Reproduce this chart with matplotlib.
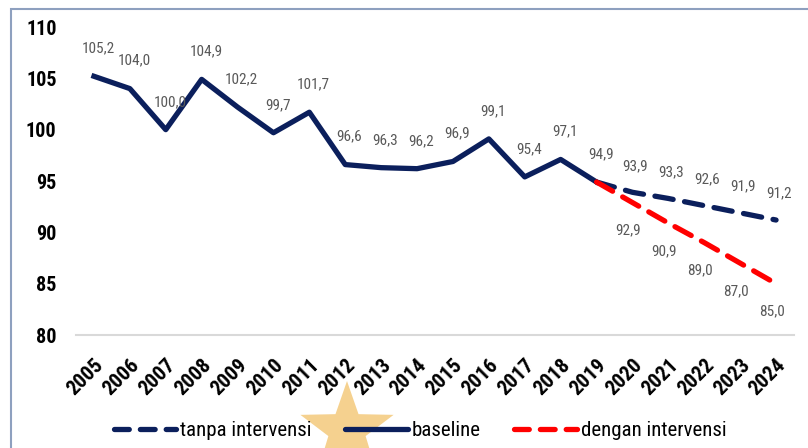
import numpy as np
import matplotlib.pyplot as plt
from matplotlib import font_manager
from matplotlib.lines import Line2D
from matplotlib.patches import Rectangle

# pick a narrow font if there is one
names = {f.name for f in font_manager.fontManager.ttflist}
font = "DejaVu Sans"
for cand in ["Liberation Sans Narrow", "Roboto Condensed", "Open Sans Condensed", "Lato"]:
    if cand in names:
        font = cand
        break
plt.rcParams["font.family"] = font

# data
years = list(range(2005, 2025))
baseline_years = list(range(2005, 2020))
baseline = [105.2, 104.0, 100.0, 104.9, 102.2, 99.7, 101.7, 96.6, 96.3, 96.2,
            96.9, 99.1, 95.4, 97.1, 94.9]
proj_years = list(range(2019, 2025))
tanpa = [94.9, 93.9, 93.3, 92.6, 91.9, 91.2]
dengan = [94.9, 92.9, 90.9, 89.0, 87.0, 85.0]

navy = "#0B1F5C"
red = "#FF0000"
label_color = "#595959"

fig = plt.figure(figsize=(8.08, 4.48), dpi=100)
ax = fig.add_axes([76 / 808, 1 - 335 / 448, 718 / 808, 308 / 448])

ax.plot(proj_years, tanpa, color=navy, lw=3.8, dashes=(3.5, 2.2),
        dash_capstyle="round")
ax.plot(baseline_years, baseline, color=navy, lw=3.8)
ax.plot(proj_years, dengan, color=red, lw=3.8, dashes=(3.5, 2.2),
        dash_capstyle="round")

lab = dict(ha="center", fontsize=11, color=label_color)
for x, v in zip(baseline_years, baseline):
    ax.annotate(f"{v:.1f}".replace(".", ","), (x, v), xytext=(3, 15),
                textcoords="offset points", va="bottom", **lab)
for x, v in zip(proj_years[1:], tanpa[1:]):
    ax.annotate(f"{v:.1f}".replace(".", ","), (x, v), xytext=(2, 14),
                textcoords="offset points", va="bottom", **lab)
for x, v in zip(proj_years[1:], dengan[1:]):
    ax.annotate(f"{v:.1f}".replace(".", ","), (x, v), xytext=(-3, -15),
                textcoords="offset points", va="top", **lab)

ax.set_xlim(2004.5, 2024.5)
ax.set_ylim(80, 110)
ax.set_yticks([80, 85, 90, 95, 100, 105, 110])
ax.set_xticks(years)
ax.set_xticklabels([str(y) for y in years], rotation=45, ha="right",
                   rotation_mode="anchor", fontsize=15, fontweight="bold")
for t in ax.get_yticklabels():
    t.set_fontsize(14.5)
    t.set_fontweight("bold")
ax.tick_params(axis="y", length=0, pad=14)
ax.tick_params(axis="x", length=0, pad=15)
for s in ["top", "right", "left"]:
    ax.spines[s].set_visible(False)
ax.spines["bottom"].set_color("#D9D9D9")
ax.spines["bottom"].set_linewidth(1.5)

# legend with shorter dashes, like the original
handles = [
    Line2D([], [], color=navy, lw=3.8, dashes=(2.8, 2.1), dash_capstyle="round"),
    Line2D([], [], color=navy, lw=3.8, solid_capstyle="round"),
    Line2D([], [], color=red, lw=3.8, dashes=(2.8, 2.1), dash_capstyle="round"),
]
fig.legend(handles, ["tanpa intervensi", "baseline", "dengan intervensi"],
           loc="lower center", bbox_to_anchor=(0.52, -0.025), ncol=3,
           frameon=False, fontsize=15, handlelength=3.0, columnspacing=1.6,
           handletextpad=0.2)

# frame around the chart
fig.add_artist(Rectangle((11 / 808, -0.01), 1.0, 0.998 - 4 / 448, transform=fig.transFigure,
                         fill=False, edgecolor="#8EA0BF", lw=1.5))

# gold star overlay
cx, cy, r = 347, 18, 49
ang = np.pi / 2 + np.arange(10) * np.pi / 5
rad = np.where(np.arange(10) % 2 == 0, r, r * 0.4)
pts = np.column_stack([cx + rad * np.cos(ang), cy + rad * np.sin(ang)])
pts[:, 0] /= 808
pts[:, 1] /= 448
star = plt.Polygon(pts, closed=True, transform=fig.transFigure,
                   facecolor="#F2C26A", edgecolor="none", alpha=0.75)
fig.add_artist(star)

fig.savefig("out.png", dpi=100)
